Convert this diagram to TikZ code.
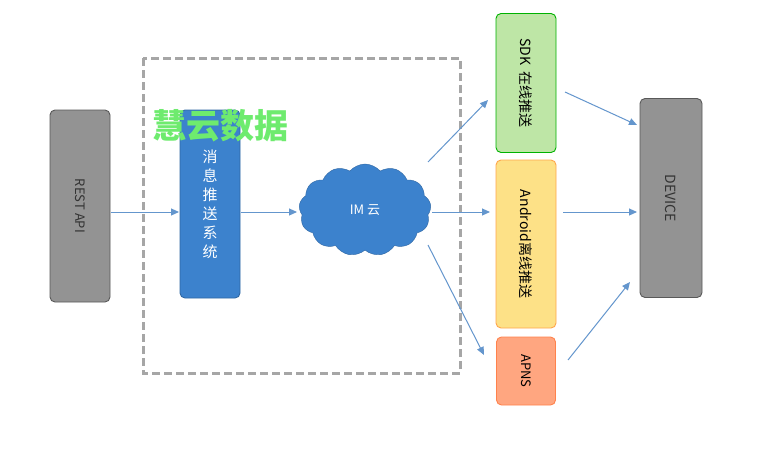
\documentclass[tikz,border=0pt]{standalone}
\usepackage{fontspec}
\setmainfont{Noto Sans CJK SC}
\usetikzlibrary{shapes.symbols,arrows.meta}
\definecolor{arrc}{RGB}{100,150,205}
\definecolor{bluef}{RGB}{60,130,205}
\definecolor{wmc}{RGB}{110,235,110}
\begin{document}
\begin{tikzpicture}[x=1pt,y=-1pt,
 box/.style={draw=#1!70!black,rounded corners=5pt,line width=0.9pt,inner sep=0},
 arr/.style={draw=arrc,line width=1pt,-{Triangle[length=8pt,width=7pt]}},
 font=\fontsize{13}{14}\selectfont]
\path[use as bounding box] (0,0) rectangle (759,466);
\fill[white] (0,0) rectangle (759,466);
\draw[gray!70,line width=3pt,dash pattern=on 8pt off 4pt] (143,58) rectangle (460,373);
\node[box=gray,fill=gray!85,minimum width=192pt,minimum height=60pt,rotate=-90,text=black!80] (rest) at (80,206) {REST API};
\node[box=blue,draw=bluef!80!black,fill=bluef,text=white,minimum width=60pt,minimum height=188pt,align=center,font=\fontsize{15}{19}\selectfont] (msg) at (210,204) {消\\息\\推\\送\\系\\统};
\node[cloud,cloud puffs=13,cloud puff arc=100,aspect=1.5,fill=bluef,draw=bluef!80!black,minimum width=132pt,minimum height=92pt,text=white,inner sep=0] (im) at (365,210) {IM 云};
\node[box=green,fill=green!45!olive!35,minimum width=139pt,minimum height=60pt,rotate=-90,font=\fontsize{14}{15}\selectfont] (sdk) at (526,83) {SDK\ \ 在线推送};
\node[box=yellow,draw=orange!70,fill=yellow!55!orange!45,minimum width=168pt,minimum height=60pt,rotate=-90,font=\fontsize{14}{15}\selectfont] (and) at (526,244) {Android离线推送};
\node[box=orange,draw=red!40!orange!70,fill=red!40!orange!50,minimum width=68pt,minimum height=59pt,rotate=-90] (apns) at (526,371) {APNS};
\node[box=gray,fill=gray!85,minimum width=199pt,minimum height=62pt,rotate=-90,text=black!80,font=\fontsize{14}{15}\selectfont] (dev) at (671,198) {DEVICE};
\node[text=wmc,font=\fontsize{34}{36}\selectfont\bfseries,anchor=west,inner sep=0] (wm) at (152,126) {慧云数据};
\coordinate (r1) at (111,212); \coordinate (m1) at (179,212);
\coordinate (m2) at (241,212); \coordinate (c1) at (297,212);
\coordinate (c2) at (428,162); \coordinate (s1) at (488,100);
\coordinate (c3) at (432,212); \coordinate (d1) at (490,212);
\coordinate (c4) at (428,245); \coordinate (p1) at (484,355);
\coordinate (s2) at (565,92);  \coordinate (v1) at (637,125);
\coordinate (n2) at (563,212); \coordinate (v2) at (637,212);
\coordinate (p2) at (568,360); \coordinate (v3) at (630,282);
\draw[arr] (r1) -- (m1);
\draw[arr] (m2) -- (c1);
\draw[arr] (c2) -- (s1);
\draw[arr] (c3) -- (d1);
\draw[arr] (c4) -- (p1);
\draw[arr] (s2) -- (v1);
\draw[arr] (n2) -- (v2);
\draw[arr] (p2) -- (v3);
\end{tikzpicture}
\end{document}
